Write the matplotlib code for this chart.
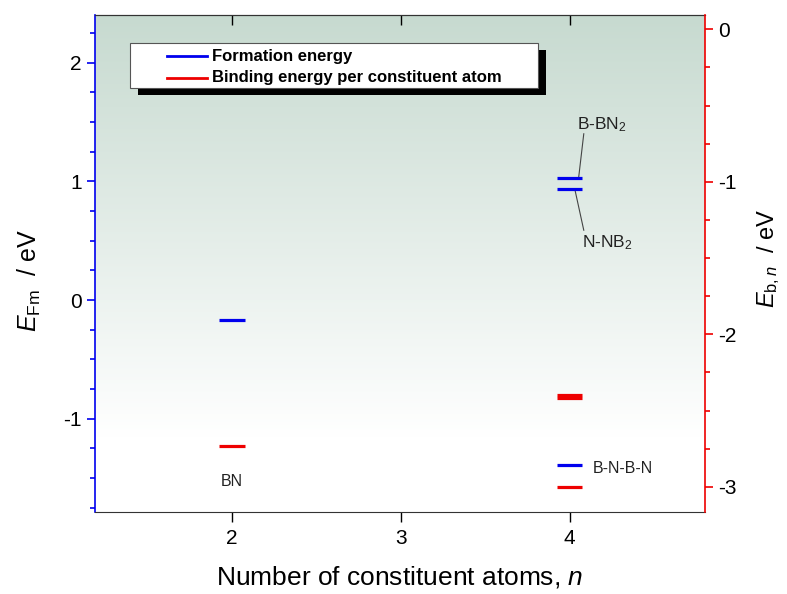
import numpy as np
import matplotlib.pyplot as plt
from matplotlib.patches import Rectangle
from matplotlib.ticker import MultipleLocator

plt.rcParams['font.family'] = ['Liberation Sans', 'DejaVu Sans']
plt.rcParams['mathtext.fontset'] = 'custom'
plt.rcParams['mathtext.rm'] = 'Liberation Sans'
plt.rcParams['mathtext.it'] = 'Liberation Sans:italic'
plt.rcParams['axes.unicode_minus'] = False

# formation energy (left axis) and binding energy per atom (right axis)
n_form = [2, 4, 4, 4]
e_form = [-0.17, 1.03, 0.935, -1.39]
n_bind = [2, 4, 4, 4]
e_bind = [-2.73, -2.40, -2.415, -3.0]
half_width = 0.075

BLUE = '#0000ee'
RED = '#ee0000'

fig = plt.figure(figsize=(7.87, 5.94), dpi=100)
ax = fig.add_axes([0.1207, 0.138, 0.775, 0.8367])
ax2 = ax.twinx()

ax.set_xlim(1.19, 4.8)
ax.set_ylim(-1.785, 2.40)
ax2.set_ylim(-3.165, 0.094)

# background gradient, greenish at the top fading to white
grad = np.linspace(0, 1, 256).reshape(-1, 1)
top = np.array([0.78, 0.855, 0.815])
frac = np.clip(grad / 0.85, 0, 1)
img = top[None, None, :] * (1 - frac[:, :, None]) + frac[:, :, None]
ax.imshow(img, extent=[0, 1, 0, 1], transform=ax.transAxes, aspect='auto',
          zorder=0, interpolation='bilinear')

for x, y in zip(n_form, e_form):
    ax.hlines(y, x - half_width, x + half_width, color=BLUE, lw=2.3, zorder=3)
for x, y in zip(n_bind, e_bind):
    ax2.hlines(y, x - half_width, x + half_width, color=RED, lw=2.3, zorder=3)

# structure labels
ax.text(2, -1.53, 'BN', ha='center', va='center', fontsize=11.5, color='#222222')
ax.text(4.136, -1.415, 'B-N-B-N', ha='left', va='center', fontsize=11.5, color='#222222')
ax.text(4.041, 1.435, 'B-BN$_2$', ha='left', va='baseline', fontsize=12.5, color='#222222')
ax.text(4.071, 0.445, 'N-NB$_2$', ha='left', va='baseline', fontsize=12.5, color='#222222')
ax.plot([4.053, 4.083], [1.035, 1.40], color='#444444', lw=0.8)
ax.plot([4.030, 4.083], [0.933, 0.588], color='#444444', lw=0.8)

# axes styling
ax.xaxis.set_major_locator(MultipleLocator(1))
ax.yaxis.set_major_locator(MultipleLocator(1))
ax.yaxis.set_minor_locator(MultipleLocator(0.25))
ax2.yaxis.set_major_locator(MultipleLocator(1))
ax2.yaxis.set_minor_locator(MultipleLocator(0.25))

ax.tick_params(axis='x', direction='out', length=7, width=1, labelsize=15, pad=5)
ax.tick_params(axis='y', which='major', direction='out', length=6, width=1.2,
               color=BLUE, labelsize=15)
ax.tick_params(axis='y', which='minor', direction='out', length=3.5, width=1.2, color=BLUE)
ax2.tick_params(axis='y', which='major', direction='out', length=6, width=1.2,
                color=RED, labelsize=15)
ax2.tick_params(axis='y', which='minor', direction='out', length=3.5, width=1.2, color=RED)

secx = ax.secondary_xaxis('top')
secx.xaxis.set_major_locator(MultipleLocator(1))
secx.tick_params(direction='in', length=7, width=1, labeltop=False)

ax.spines['left'].set_color(BLUE)
ax.spines['left'].set_linewidth(1.2)
ax.spines['right'].set_visible(False)
ax2.spines['left'].set_visible(False)
ax2.spines['right'].set_color(RED)
ax2.spines['right'].set_linewidth(1.2)
for sp in ('top', 'bottom'):
    ax.spines[sp].set_color('#333333')
    ax2.spines[sp].set_visible(False)
secx.spines['top'].set_color('#333333')

ax.set_xlabel('Number of constituent atoms, $n$', fontsize=19, labelpad=12)
ax.set_ylabel('$E_{\\rm Fm}$  / eV', fontsize=18)
ax.yaxis.set_label_coords(-0.086, 0.465)
ax2.set_ylabel('$E_{{\\rm b},n}$  / eV', fontsize=17)
ax2.yaxis.set_label_coords(1.082, 0.51)

# legend box drawn by hand with a hard black shadow
def px(x, y):
    return ((x - 95) / 610, (512 - y) / 497)

x0, y0 = px(130, 88)
x1, y1 = px(538, 43)
sx, sy = px(138, 95)
ax2.add_patch(Rectangle((sx, sy), x1 - x0, y1 - y0, transform=ax2.transAxes,
                        facecolor='black', edgecolor='none', zorder=5))
ax2.add_patch(Rectangle((x0, y0), x1 - x0, y1 - y0, transform=ax2.transAxes,
                        facecolor='white', edgecolor='#555555', lw=0.8, zorder=6))
legend_labels = ['Formation energy', 'Binding energy per constituent atom']
legend_colors = [BLUE, RED]
for label, color, ly in zip(legend_labels, legend_colors, [56, 77.5]):
    a, b = px(167, ly)
    c, _ = px(207, ly)
    ax2.plot([a, c], [b, b], color=color, lw=2, transform=ax2.transAxes, zorder=7)
    t, _ = px(212, ly)
    ax2.text(t, b, label, transform=ax2.transAxes, ha='left', va='center',
             fontsize=12, fontweight='bold', zorder=7)

fig.savefig('out.png', dpi=100)
